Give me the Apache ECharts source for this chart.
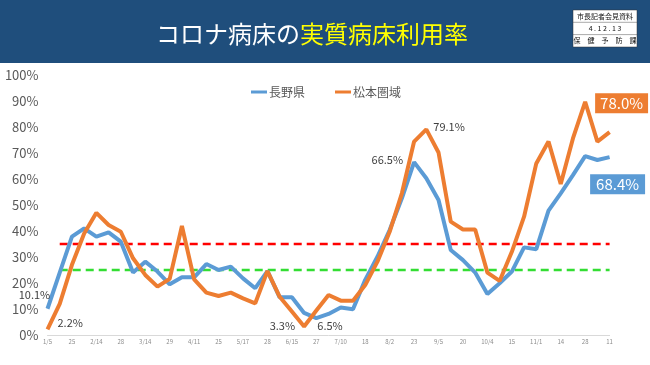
<!DOCTYPE html>
<html><head><meta charset="utf-8">
<script src="https://cdn.jsdelivr.net/npm/echarts@6/dist/echarts.min.js"></script>
<style>html,body{margin:0;padding:0;background:#fff}#c{width:650px;height:365px}</style>
</head><body><div id="c"></div>
<script>
const categories = ['1/5','','25','','2/14','','28','','3/14','','29','','4/11','','25','','5/17','','28','','6/15','','27','','7/10','','18','','8/2','','23','','9/5','','20','','10/4','','15','','11/1','','14','','28','','11'];
const nagano = [10.1,24,37.8,41,37.8,39.5,35.9,24,28.2,24.4,19.5,22.2,22.2,27.3,25,26.3,21.8,18,24.6,14.5,14.5,8.5,6.5,8.1,10.6,9.9,21.2,30.1,40.4,52.6,66.5,60.3,51.9,32.7,28.8,24,15.8,19.9,24.4,33.7,33,47.8,54.5,61.5,68.8,67.3,68.4];
const matsumoto = [2.2,12,27,39,47,42.3,39.7,29.5,23.1,18.6,21.6,41.9,21.4,16.3,15,16.3,14.1,12.2,24.6,14.7,9,3.3,9.4,15.4,13.2,13.2,19.2,28.2,39.7,54.5,74.4,79.1,70.2,43.6,40.6,40.6,24,20.8,32,45.5,66,74.4,58.1,75.6,89.7,74.4,78.0];
const redLevel = 35;
const greenLevel = 25;
const yTicks = [0,10,20,30,40,50,60,70,80,90,100];

const FONT = '"Noto Sans CJK JP", "Noto Sans", sans-serif';
const n = categories.length;
const redLine = categories.map((c,i)=> i===0 ? null : redLevel);
const greenLine = categories.map((c,i)=> i===0 ? null : greenLevel);

const lab = (txt, pos, off) => ({show:true, formatter:txt, position:pos, offset:off, color:'#404040', fontSize:11, fontFamily:FONT});

const blueData = nagano.map((v,i)=>{
  if(i===0) return {value:v, label:lab('10.1%','top',[-13,-3])};
  if(i===22) return {value:v, label:lab('6.5%','right',[-4,8])};
  if(i===30) return {value:v, label:lab('66.5%','left',[-6,-2])};
  if(i===n-1) return {value:v, label:{show:true, formatter:'68.4%', position:'bottom', offset:[8,12], color:'#fff', backgroundColor:'#5b9bd5', fontSize:15, padding:[3,6,2,6], fontFamily:FONT}};
  return v;
});
const orangeData = matsumoto.map((v,i)=>{
  if(i===0) return {value:v, label:lab('2.2%','right',[5,-6])};
  if(i===21) return {value:v, label:lab('3.3%','left',[-4,-1])};
  if(i===31) return {value:v, label:lab('79.1%','right',[2,-3])};
  if(i===n-1) return {value:v, label:{show:true, formatter:'78.0%', position:'top', offset:[12,-14], color:'#fff', backgroundColor:'#ed7d31', fontSize:15, padding:[3,5,2,5], fontFamily:FONT}};
  return v;
});

const chart = echarts.init(document.getElementById('c'), null, {renderer:'canvas'});
chart.setOption({
  animation:false,
  backgroundColor:'#ffffff',
  textStyle:{fontFamily:FONT},
  title:{
    text:'{w|コロナ病床の}{y|実質病床利用率}',
    left:151, top:17,
    textStyle:{rich:{
      w:{color:'#ffffff', fontSize:24, fontWeight:'normal', fontFamily:FONT},
      y:{color:'#ffff00', fontSize:24, fontWeight:'normal', fontFamily:FONT}
    }}
  },
  graphic:[
    {type:'rect', z:-1, shape:{x:0,y:0,width:650,height:63}, style:{fill:'#1f4e7c'}},
    {type:'rect', shape:{x:573,y:10,width:64,height:37}, style:{fill:'#fff', stroke:'#333', lineWidth:0.5}},
    {type:'line', shape:{x1:573,y1:22.3,x2:637,y2:22.3}, style:{stroke:'#555', lineWidth:0.5}},
    {type:'line', shape:{x1:573,y1:34.6,x2:637,y2:34.6}, style:{stroke:'#555', lineWidth:0.5}},
    {type:'text', x:605, y:16.2, style:{text:'市長記者会見資料', fill:'#111', fontSize:7, fontFamily:FONT, align:'center', verticalAlign:'middle'}},
    {type:'text', x:605, y:28.5, style:{text:'4 . 1 2 . 1 3', fill:'#111', fontSize:7, fontFamily:FONT, align:'center', verticalAlign:'middle'}},
    {type:'text', x:605, y:40.8, style:{text:'保　健　予　防　課', fill:'#111', fontSize:7, fontFamily:FONT, align:'center', verticalAlign:'middle'}}
  ],
  legend:{
    data:['長野県','松本圏域'],
    top:81, left:246,
    itemWidth:16, itemHeight:3, itemGap:30,
    icon:'rect',
    textStyle:{color:'#595959', fontSize:12, fontFamily:FONT, padding:[0,0,0,-3]}
  },
  grid:{left:47.5, right:40.4, top:75, bottom:30, containLabel:false},
  xAxis:{
    type:'category', data:categories, boundaryGap:false,
    axisLine:{lineStyle:{color:'#d9d9d9', width:1}},
    axisTick:{show:false},
    axisLabel:{interval:0, fontSize:6, color:'#8c8c8c', margin:4, fontFamily:FONT}
  },
  yAxis:{
    type:'value', min:0, max:100, interval:10,
    axisLine:{show:false}, axisTick:{show:false},
    splitLine:{show:false},
    axisLabel:{formatter:'{value}%', color:'#595959', fontSize:13, margin:9, fontFamily:FONT}
  },
  series:[
    {name:'red', type:'line', data:redLine, symbol:'none', silent:true, z:1,
     lineStyle:{color:'#ff0000', width:2.5, type:[8,5]}},
    {name:'green', type:'line', data:greenLine, symbol:'none', silent:true, z:1,
     lineStyle:{color:'#33dd33', width:2.5, type:[8,5]}},
    {name:'長野県', type:'line', data:blueData, symbol:'circle', symbolSize:0.01, showSymbol:true, z:3, color:'#5b9bd5',
     lineStyle:{color:'#5b9bd5', width:4}},
    {name:'松本圏域', type:'line', data:orangeData, symbol:'circle', symbolSize:0.01, showSymbol:true, z:4, color:'#ed7d31',
     lineStyle:{color:'#ed7d31', width:4}}
  ]
});
</script></body></html>
